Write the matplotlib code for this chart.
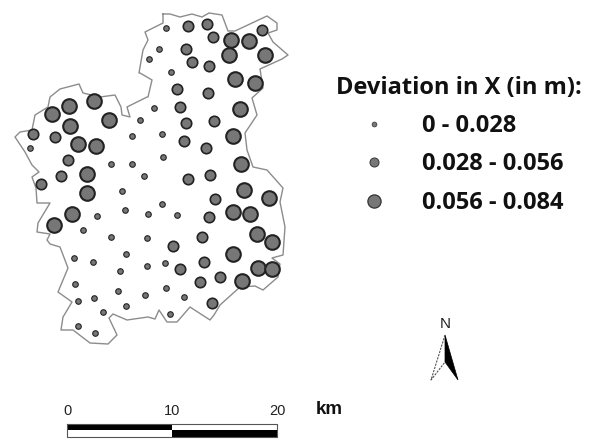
import matplotlib
matplotlib.use('Agg')
import matplotlib.pyplot as plt

plt.rcParams['font.family'] = ['Liberation Sans', 'DejaVu Sans']

# Map in pixel coordinates
boundary_x = [163, 170, 180, 192, 202, 209, 222, 228, 235, 267, 277, 277, 268, 273, 288, 282, 260, 263, 252, 257,
              245, 247, 253, 267, 283, 280, 285, 283, 272, 280, 278, 263, 255, 240, 220, 214, 210, 190, 177, 167,
              159, 155, 148, 127, 113, 109, 117, 108, 90, 73, 61, 63, 72, 58, 68, 60, 50, 47, 50, 37,
              38, 50, 37, 36, 32, 39, 32, 25, 15, 20, 32, 35, 48, 50, 60, 79, 83, 100, 115, 121,
              122, 130, 127, 147, 148, 152, 140, 139, 143, 148, 145, 163, 163]
boundary_y = [14, 14, 17, 14, 17, 13, 15, 31, 31, 16, 23, 30, 33, 42, 55, 59, 69, 88, 98, 115,
              133, 150, 167, 170, 188, 202, 227, 255, 258, 264, 277, 290, 286, 287, 305, 315, 320, 307, 322, 322,
              310, 319, 317, 320, 314, 318, 335, 344, 343, 330, 330, 317, 302, 292, 268, 247, 244, 240, 234, 232,
              223, 203, 203, 188, 177, 172, 165, 152, 137, 132, 130, 115, 107, 97, 89, 84, 93, 97, 95, 107,
              115, 117, 107, 97, 97, 80, 73, 73, 50, 40, 32, 23, 14]

small_x = [30, 132, 140, 111, 132, 149, 166, 159, 171, 154, 162, 163, 144, 122, 125, 97, 148, 83, 111,
           147, 126, 74, 93, 120, 147, 75, 118, 145, 94, 78, 126, 103, 78, 95, 162, 177, 165, 166, 184, 170]
small_y = [148, 136, 120, 164, 164, 59, 28, 49, 72, 108, 134, 157, 176, 191, 210, 216, 214, 230, 237,
           238, 254, 258, 262, 271, 266, 284, 291, 295, 298, 301, 306, 312, 326, 333, 204, 215, 263, 288, 297, 314]

medium_x = [33, 55, 68, 188, 207, 213, 262, 186, 192, 209, 177, 208, 180, 186, 214, 184, 206,
            41, 61, 188, 210, 215, 209, 202, 173, 180, 204, 200, 220, 212]
medium_y = [134, 137, 160, 26, 24, 37, 30, 49, 62, 66, 89, 93, 107, 123, 121, 141, 148,
            184, 176, 179, 175, 199, 217, 237, 246, 269, 262, 282, 277, 303]

large_x = [52, 69, 94, 109, 70, 78, 96, 87, 87, 72, 54, 231, 249, 229, 265, 235, 255, 240, 233, 241,
           244, 269, 233, 250, 257, 272, 233, 258, 272, 242]
large_y = [114, 106, 101, 120, 126, 144, 146, 174, 193, 214, 225, 40, 41, 55, 55, 79, 83, 109, 136, 164,
           190, 198, 212, 214, 234, 242, 254, 268, 269, 281]

legend_title = 'Deviation in X (in m):'
legend_labels = ['0 - 0.028', '0.028 - 0.056', '0.056 - 0.084']
legend_x = [374, 374, 374]
legend_y = [124, 162, 201]
scale_labels = ['0', '10', '20']
scale_x = [67, 172, 277]

fig = plt.figure(figsize=(5.9, 4.4), dpi=100)
ax = fig.add_axes([0, 0, 1, 1])
ax.set_xlim(0, 590)
ax.set_ylim(440, 0)
ax.axis('off')

ax.plot(boundary_x, boundary_y, color='#8c8c8c', linewidth=1.0, zorder=1)


def dots(x, y, size, edge):
    ax.plot(x, y, 'o', ms=size, mfc='#777777', mec='#222222', mew=edge, zorder=2)


dots(small_x, small_y, 4.0, 0.8)
dots(medium_x, medium_y, 7.5, 1.2)
dots(large_x, large_y, 10.5, 1.5)

# Legend
ax.text(336, 88, legend_title, family='Open Sans', fontsize=17, fontweight='bold', va='center', color='#111111')
for lx, ly, lab, ms, mew in zip(legend_x, legend_y, legend_labels, [3.5, 6.5, 9.5], [0.5, 0.7, 0.9]):
    ax.plot([lx], [ly], 'o', ms=ms, mfc='#777777', mec='#333333', mew=mew)
    ax.text(422, ly + 2, lab, family='Open Sans', fontsize=17, fontweight='bold', va='center', color='#111111')

# Scale bar
ax.fill_between([scale_x[0], scale_x[1]], 424, 430, color='black', lw=0)
ax.fill_between([scale_x[1], scale_x[2]], 430, 437, color='black', lw=0)
ax.plot([scale_x[0], scale_x[2], scale_x[2], scale_x[0], scale_x[0]], [424, 424, 437, 437, 424],
        color='#555555', linewidth=0.8)
for sx, lab in zip(scale_x, scale_labels):
    ax.text(sx, 411, lab, fontsize=10.5, ha='center', va='center', color='#222222')
ax.text(316, 409, 'km', fontsize=13.5, fontweight='bold', va='center', color='#111111')

# North arrow
ax.text(445, 324, 'N', fontsize=11, ha='center', va='center', color='#222222')
ax.plot([445, 431, 445], [335, 380, 362], color='#555555', linewidth=0.8, linestyle=(0, (2, 1)))
ax.fill([445, 458, 445], [335, 380, 362], color='black', lw=0.5)

fig.savefig('out.png', dpi=100)
plt.close()
